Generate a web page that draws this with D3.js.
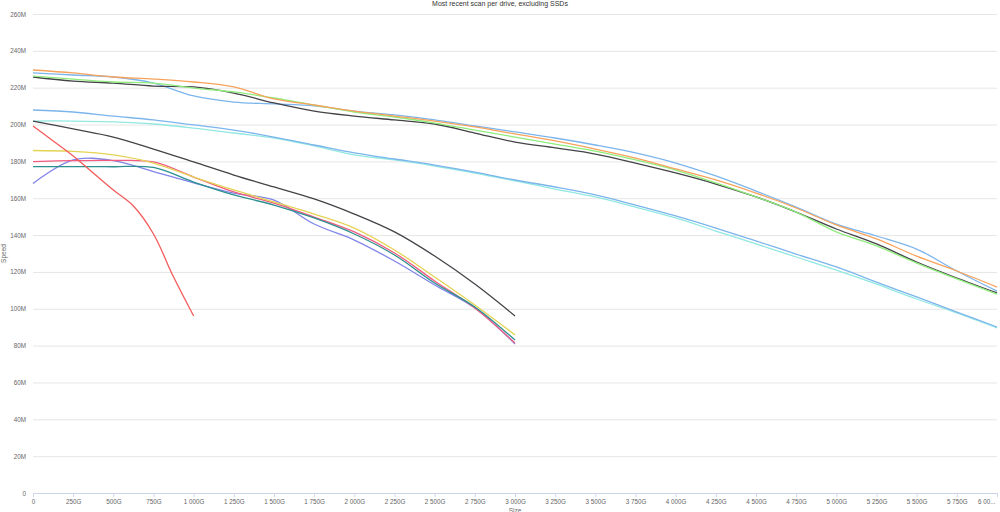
<!DOCTYPE html>
<html>
<head>
<meta charset="utf-8">
<script src="https://cdn.jsdelivr.net/npm/d3@7"></script>
<style>
  body { margin: 0; background: #fff; }
  svg { display: block; font-family: "Liberation Sans", Arial, sans-serif; }
</style>
</head>
<body>
<svg id="canvas" width="1000" height="512"></svg>
<script>
// sizes in G, speeds in M
var sizesLong = [0, 250, 500, 750, 1000, 1250, 1500, 1750, 2000, 2250, 2500, 2750, 3000,
    3250, 3500, 3750, 4000, 4250, 4500, 4750, 5000, 5250, 5500, 5750, 6000];
var sizesMid = [0, 250, 500, 750, 1000, 1250, 1500, 1750, 2000, 2250, 2500, 2750, 3000];
var sizesShort = [0, 125, 250, 375, 500, 625, 750, 875, 1000];

var driveLightBlue = [228.0, 226.9, 225.8, 222.5, 215.5, 212.2, 211.2, 210.1, 207.3, 205.2, 202.5, 199.2, 196.0,
    192.7, 188.9, 184.6, 179.1, 172.1, 163.9, 155.2, 146.0, 139.5, 132.4, 120.5, 109.6];
var driveBlack = [225.8, 223.6, 222.5, 220.9, 220.4, 217.1, 211.7, 207.3, 204.6, 202.5, 200.3, 195.4, 190.5,
    187.3, 184.0, 179.1, 173.7, 167.7, 160.7, 152.5, 143.3, 135.2, 125.4, 116.7, 108.6];
var driveGreen = [226.3, 224.7, 223.1, 222.5, 219.8, 217.7, 214.4, 210.6, 206.8, 204.1, 200.8, 197.0, 193.2,
    189.4, 185.6, 180.8, 175.3, 168.3, 160.7, 152.5, 141.7, 134.1, 124.8, 116.2, 108.0];
var driveOrange = [229.6, 228.0, 225.8, 224.7, 223.1, 220.4, 213.9, 210.6, 207.3, 204.6, 201.9, 198.7, 194.9,
    191.1, 186.7, 181.8, 175.9, 169.9, 162.8, 154.7, 145.5, 137.9, 128.6, 120.5, 111.8];
var drivePurple = [168.0, 180.8, 180.4, 174.5, 168.4, 162.8, 159.0, 146.0, 137.3, 125.9, 112.9, 100.4, 80.9];
var drivePink = [179.9, 180.4, 180.5, 179.7, 171.5, 163.4, 157.4, 149.8, 141.7, 130.3, 115.1, 100.4, 81.4];
var driveYellow = [185.9, 185.4, 183.5, 179.1, 171.5, 164.5, 158.0, 151.4, 143.8, 131.9, 117.2, 102.0, 85.8];
var driveTeal = [177.2, 177.2, 177.1, 176.7, 168.8, 161.8, 156.3, 149.3, 140.6, 129.2, 114.0, 101.0, 83.0];
var driveRed = [199.2, 191.1, 182.9, 173.7, 164.5, 155.8, 140.6, 117.2, 96.1];
var driveCyan = [201.9, 201.9, 201.4, 200.3, 198.1, 195.4, 192.7, 188.4, 183.5, 180.8, 177.5, 173.7, 169.4,
    165.0, 160.7, 155.2, 149.3, 142.2, 135.2, 128.1, 121.0, 113.4, 105.3, 97.7, 89.6];
var driveBlue = [207.9, 206.8, 204.6, 202.5, 199.8, 197.0, 193.2, 188.9, 184.6, 181.3, 178.0, 174.2, 169.9,
    166.1, 161.8, 156.3, 150.4, 143.8, 136.8, 129.7, 122.7, 114.5, 106.4, 98.2, 90.1];
var driveBlack2 = [201.9, 197.6, 193.2, 186.7, 179.7, 172.6, 166.1, 159.6, 151.4, 141.7, 128.6, 113.4, 96.1];

var yTicks = [0, 20, 40, 60, 80, 100, 120, 140, 160, 180, 200, 220, 240, 260];
var xTicks = d3.range(0, 6001, 250);

// series in drawing order, colours from the usual palette
var series = [
    { sizes: sizesLong, speeds: driveLightBlue, color: "#7cb5ec" },
    { sizes: sizesLong, speeds: driveBlack, color: "#434348" },
    { sizes: sizesLong, speeds: driveGreen, color: "#90ed7d" },
    { sizes: sizesLong, speeds: driveOrange, color: "#f7a35c" },
    { sizes: sizesMid, speeds: drivePurple, color: "#8085e9" },
    { sizes: sizesMid, speeds: drivePink, color: "#f15c80" },
    { sizes: sizesMid, speeds: driveYellow, color: "#e4d354" },
    { sizes: sizesMid, speeds: driveTeal, color: "#2b908f" },
    { sizes: sizesShort, speeds: driveRed, color: "#f45b5b" },
    { sizes: sizesLong, speeds: driveCyan, color: "#91e8e1" },
    { sizes: sizesLong, speeds: driveBlue, color: "#7cb5ec" },
    { sizes: sizesMid, speeds: driveBlack2, color: "#434348" }
];

(function () {
    var plotLeft = 33, plotRight = 997, plotTop = 14, plotBottom = 493;

    var svg = d3.select("#canvas");

    var x = d3.scaleLinear().domain([0, 6000]).range([plotLeft, plotRight]);
    var y = d3.scaleLinear().domain([0, 260]).range([plotBottom, plotTop]);

    var thousands = d3.formatLocale({ decimal: ".", thousands: " ", grouping: [3], currency: ["", ""] }).format(",d");

    // title
    svg.append("text")
        .attr("x", 500).attr("y", 5.5)
        .attr("text-anchor", "middle")
        .attr("font-size", "7px")
        .attr("fill", "#333")
        .text("Most recent scan per drive, excluding SSDs");

    // y grid + labels
    svg.append("g")
        .attr("transform", `translate(${plotLeft},0)`)
        .call(d3.axisLeft(y).tickValues(yTicks).tickSize(-(plotRight - plotLeft)).tickPadding(7)
            .tickFormat(function (d) { return d === 0 ? "0" : d + "M"; }))
        .call((g) => g.select(".domain").remove())
        .call((g) => g.selectAll("line").attr("stroke", "#e6e6e6").attr("stroke-width", 1))
        .call((g) => g.selectAll("text").attr("fill", "#666").attr("font-size", "6.3px")
            .attr("font-family", "Liberation Sans, Arial, sans-serif"));

    // x axis
    svg.append("g")
        .attr("transform", `translate(0,${plotBottom})`)
        .call(d3.axisBottom(x).tickValues(xTicks).tickSize(4).tickPadding(3)
            .tickFormat(function (d) { return d === 0 ? "0" : (d === 6000 ? "6 00..." : thousands(d) + "G"); }))
        .call((g) => g.select(".domain").attr("stroke", "#ccd6eb").attr("d", `M${plotLeft},0.5H${plotRight}`))
        .call((g) => g.selectAll("line").attr("stroke", "#ccd6eb"))
        .call((g) => g.selectAll("text").attr("fill", "#666").attr("font-size", "6.3px")
            .attr("font-family", "Liberation Sans, Arial, sans-serif"))
        .call((g) => g.selectAll(".tick").filter((d) => d === 6000).select("text")
            .attr("text-anchor", "end").attr("dx", "-2"));

    // axis titles
    svg.append("text")
        .attr("transform", `translate(6,${(plotTop + plotBottom) / 2}) rotate(-90)`)
        .attr("text-anchor", "middle")
        .attr("font-size", "6.5px")
        .attr("fill", "#666")
        .text("Speed");

    svg.append("text")
        .attr("x", (plotLeft + plotRight) / 2).attr("y", 513)
        .attr("text-anchor", "middle")
        .attr("font-size", "6.5px")
        .attr("fill", "#666")
        .text("Size");

    var line = d3.line()
        .x(function (d) { return x(d[0]); })
        .y(function (d) { return y(d[1]); })
        .curve(d3.curveCatmullRom.alpha(0.5));

    svg.append("g")
        .selectAll("path")
        .data(series)
        .join("path")
        .attr("fill", "none")
        .attr("stroke", function (d) { return d.color; })
        .attr("stroke-width", 1.3)
        .attr("d", function (d) { return line(d3.zip(d.sizes, d.speeds)); });
})();
</script>
</body>
</html>
